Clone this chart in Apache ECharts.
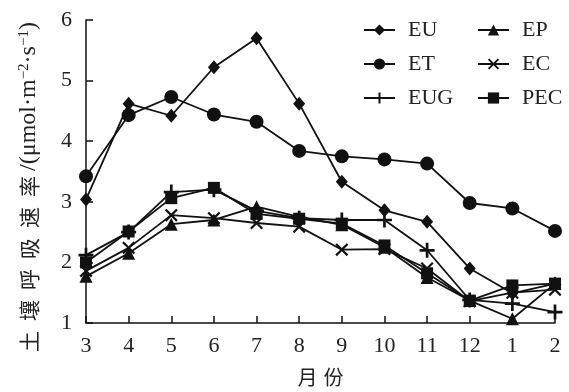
<!DOCTYPE html>
<html>
<head>
<meta charset="utf-8">
<script src="https://cdn.jsdelivr.net/npm/echarts@6/dist/echarts.min.js"></script>
<style>
  html, body { margin: 0; padding: 0; background: #fff; }
  #chart { width: 569px; height: 392px; }
</style>
</head>
<body>
<div id="chart"></div>
<script>
var months = ['3', '4', '5', '6', '7', '8', '9', '10', '11', '12', '1', '2'];
var yTicks = [1, 2, 3, 4, 5, 6];

var EU = [3.04, 4.62, 4.42, 5.22, 5.70, 4.62, 3.33, 2.86, 2.67, 1.90, 1.49, 1.65];
var ET = [3.42, 4.43, 4.73, 4.44, 4.32, 3.84, 3.75, 3.70, 3.63, 2.98, 2.89, 2.52];
var EUG = [2.12, 2.50, 3.16, 3.20, 2.85, 2.73, 2.70, 2.70, 2.20, 1.38, 1.32, 1.18];
var EP = [1.77, 2.15, 2.63, 2.70, 2.92, 2.75, 2.62, 2.25, 1.75, 1.37, 1.07, 1.65];
var EC = [1.86, 2.24, 2.78, 2.73, 2.65, 2.59, 2.21, 2.22, 1.90, 1.36, 1.50, 1.55];
var PEC = [2.00, 2.51, 3.06, 3.23, 2.80, 2.72, 2.64, 2.28, 1.82, 1.37, 1.62, 1.65];

var plus = 'path://M4.1,0h1.8v4.1h4.1v1.8h-4.1v4.1h-1.8v-4.1h-4.1v-1.8h4.1z';
var cross = 'path://M0,1.2L1.2,0L5,3.8L8.8,0L10,1.2L6.2,5L10,8.8L8.8,10L5,6.2L1.2,10L0,8.8L3.8,5z';

var serif = '"Liberation Serif", "Times New Roman", serif';
var cjk = '"Noto Sans CJK SC", sans-serif';

function line(name, data, symbol, size) {
    return {
        name: name,
        type: 'line',
        data: data,
        symbol: symbol,
        symbolSize: size,
        showAllSymbol: true,
        lineStyle: { color: '#111', width: 1.8 },
        itemStyle: { color: '#111' },
        emphasis: { disabled: true }
    };
}

var legendText = { fontFamily: serif, fontSize: 22, color: '#222', lineHeight: 22, padding: [0, 0, 0, 8] };

var chart = echarts.init(document.getElementById('chart'));
chart.setOption({
    animation: false,
    backgroundColor: '#fff',
    grid: { left: 86, right: 14, top: 20, bottom: 69, containLabel: false },
    legend: [{
        data: ['EU', 'ET', 'EUG'],
        orient: 'vertical',
        left: 358, top: 14,
        itemWidth: 31, itemHeight: 14, itemGap: 12,
        textStyle: legendText
    }, {
        data: ['EP', 'EC', 'PEC'],
        orient: 'vertical',
        left: 472, top: 14,
        itemWidth: 31, itemHeight: 14, itemGap: 12,
        textStyle: legendText
    }],
    xAxis: {
        type: 'category',
        data: months,
        boundaryGap: false,
        name: '{c|月}{c|份}',
        nameLocation: 'middle',
        nameGap: 44,
        nameTextStyle: {
            rich: { c: { fontFamily: cjk, fontSize: 20, color: '#222', width: 26, align: 'center' } }
        },
        axisLine: { lineStyle: { color: '#111', width: 1.5 } },
        axisTick: { inside: true, length: 7, alignWithLabel: true, lineStyle: { color: '#111', width: 1.5 } },
        axisLabel: { fontFamily: serif, fontSize: 22, color: '#222', margin: 12 },
        splitLine: { show: false }
    },
    yAxis: {
        type: 'value',
        min: yTicks[0],
        max: yTicks[yTicks.length - 1],
        interval: 1,
        name: '{c|土}{c|壤}{c|呼}{c|吸}{c|速}{c|率}{a|/(μmol·m}{s|−2}{a|·s}{s|−1}{a|)}',
        nameLocation: 'middle',
        nameRotate: 90,
        nameGap: 45,
        nameTextStyle: {
            padding: [0, 36, 0, 0],
            rich: {
                c: { fontFamily: cjk, fontSize: 21, color: '#222', width: 31, align: 'center' },
                a: { fontFamily: serif, fontSize: 24, color: '#222' },
                s: { fontFamily: serif, fontSize: 15, color: '#222', verticalAlign: 'top' }
            }
        },
        axisLine: { show: true, lineStyle: { color: '#111', width: 1.5 } },
        axisTick: { show: true, inside: true, length: 7, lineStyle: { color: '#111', width: 1.5 } },
        axisLabel: { fontFamily: serif, fontSize: 22, color: '#222', margin: 14 },
        splitLine: { show: false }
    },
    series: [
        line('EU', EU, 'diamond', [12, 14]),
        line('ET', ET, 'circle', 14),
        line('EUG', EUG, plus, 15),
        line('EP', EP, 'triangle', 13),
        line('EC', EC, cross, 13),
        line('PEC', PEC, 'rect', 12)
    ]
});
</script>
</body>
</html>
